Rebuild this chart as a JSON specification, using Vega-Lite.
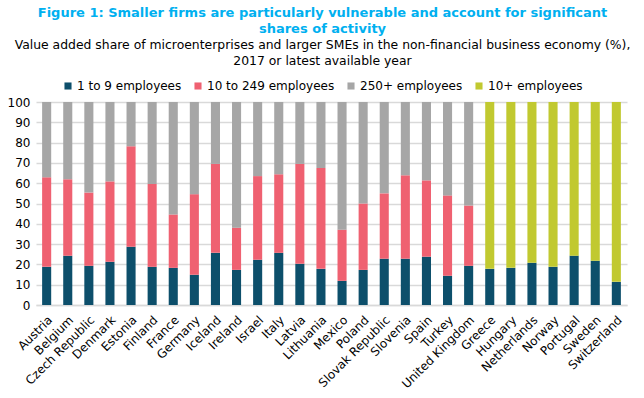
{
  "$schema": "https://vega.github.io/schema/vega-lite/v6.json",
  "width": 591,
  "height": 203,
  "autosize": {"type": "none"},
  "padding": {"left": 36, "top": 102, "right": 17, "bottom": 93},
  "background": "white",
  "title": {
    "text": ["Figure 1: Smaller firms are particularly  vulnerable and account for significant", "shares of activity"],
    "subtitle": ["Value added share of microenterprises and larger SMEs in the non-financial business economy (%),", "2017 or latest available year"],
    "anchor": "middle",
    "frame": "group",
    "dx": -9,
    "font": "DejaVu Sans",
    "fontSize": 13,
    "fontWeight": "bold",
    "color": "#00B0F0",
    "lineHeight": 16,
    "subtitleFont": "DejaVu Sans",
    "subtitleFontSize": 12.4,
    "subtitleColor": "#000000",
    "subtitleLineHeight": 16,
    "subtitlePadding": 3,
    "offset": 13
  },
  "data": {
    "values": [
      {"country": "Austria", "1 to 9 employees": 18.8, "10 to 249 employees": 44.1, "250+ employees": 37.1},
      {"country": "Belgium", "1 to 9 employees": 24.3, "10 to 249 employees": 37.6, "250+ employees": 38.1},
      {"country": "Czech Republic", "1 to 9 employees": 19.3, "10 to 249 employees": 36.1, "250+ employees": 44.6},
      {"country": "Denmark", "1 to 9 employees": 21.3, "10 to 249 employees": 39.6, "250+ employees": 39.1},
      {"country": "Estonia", "1 to 9 employees": 28.7, "10 to 249 employees": 49.5, "250+ employees": 21.8},
      {"country": "Finland", "1 to 9 employees": 18.8, "10 to 249 employees": 40.8, "250+ employees": 40.4},
      {"country": "France", "1 to 9 employees": 18.3, "10 to 249 employees": 26.3, "250+ employees": 55.4},
      {"country": "Germany", "1 to 9 employees": 14.9, "10 to 249 employees": 39.7, "250+ employees": 45.4},
      {"country": "Iceland", "1 to 9 employees": 25.7, "10 to 249 employees": 43.8, "250+ employees": 30.5},
      {"country": "Ireland", "1 to 9 employees": 17.3, "10 to 249 employees": 20.8, "250+ employees": 61.9},
      {"country": "Israel", "1 to 9 employees": 22.3, "10 to 249 employees": 41.2, "250+ employees": 36.5},
      {"country": "Italy", "1 to 9 employees": 25.7, "10 to 249 employees": 38.7, "250+ employees": 35.6},
      {"country": "Latvia", "1 to 9 employees": 20.3, "10 to 249 employees": 49.2, "250+ employees": 30.5},
      {"country": "Lithuania", "1 to 9 employees": 17.8, "10 to 249 employees": 49.7, "250+ employees": 32.5},
      {"country": "Mexico", "1 to 9 employees": 11.9, "10 to 249 employees": 25.2, "250+ employees": 62.9},
      {"country": "Poland", "1 to 9 employees": 17.3, "10 to 249 employees": 32.7, "250+ employees": 50.0},
      {"country": "Slovak Republic", "1 to 9 employees": 22.8, "10 to 249 employees": 32.2, "250+ employees": 45.0},
      {"country": "Slovenia", "1 to 9 employees": 22.8, "10 to 249 employees": 41.1, "250+ employees": 36.1},
      {"country": "Spain", "1 to 9 employees": 23.8, "10 to 249 employees": 37.6, "250+ employees": 38.6},
      {"country": "Turkey", "1 to 9 employees": 14.4, "10 to 249 employees": 39.6, "250+ employees": 46.0},
      {"country": "United Kingdom", "1 to 9 employees": 19.3, "10 to 249 employees": 29.7, "250+ employees": 51.0},
      {"country": "Greece", "1 to 9 employees": 17.8, "10+ employees": 82.2},
      {"country": "Hungary", "1 to 9 employees": 18.3, "10+ employees": 81.7},
      {"country": "Netherlands", "1 to 9 employees": 20.8, "10+ employees": 79.2},
      {"country": "Norway", "1 to 9 employees": 18.8, "10+ employees": 81.2},
      {"country": "Portugal", "1 to 9 employees": 24.3, "10+ employees": 75.7},
      {"country": "Sweden", "1 to 9 employees": 21.8, "10+ employees": 78.2},
      {"country": "Switzerland", "1 to 9 employees": 11.4, "10+ employees": 88.6}
    ]
  },
  "transform": [
    {"fold": ["1 to 9 employees", "10 to 249 employees", "250+ employees", "10+ employees"], "as": ["size", "value"]},
    {"filter": "isValid(datum.value)"}
  ],
  "mark": {"type": "bar"},
  "encoding": {
    "x": {
      "field": "country",
      "type": "nominal",
      "sort": null,
      "scale": {"paddingInner": 0.57, "paddingOuter": 0.29},
      "axis": {
        "title": null,
        "labelAngle": -45,
        "labelFont": "DejaVu Sans",
        "labelFontSize": 12,
        "labelColor": "#000000",
        "ticks": false,
        "labelPadding": 9,
        "domainColor": "#D9D9D9",
        "domainWidth": 1.5
      }
    },
    "y": {
      "field": "value",
      "type": "quantitative",
      "stack": "zero",
      "scale": {"domain": [0, 100]},
      "axis": {
        "title": null,
        "values": [0, 10, 20, 30, 40, 50, 60, 70, 80, 90, 100],
        "labelFont": "DejaVu Sans",
        "labelFontSize": 12,
        "labelColor": "#000000",
        "ticks": false,
        "domain": false,
        "gridColor": "#D9D9D9",
        "gridWidth": 1.5,
        "labelPadding": 6
      }
    },
    "order": {"field": "size", "sort": "ascending"},
    "color": {
      "field": "size",
      "type": "nominal",
      "scale": {
        "domain": ["1 to 9 employees", "10 to 249 employees", "250+ employees", "10+ employees"],
        "range": ["#0D4F6B", "#EF6171", "#A6A6A6", "#C1C930"]
      },
      "legend": {
        "title": null,
        "orient": "none",
        "legendX": 26,
        "legendY": -22,
        "direction": "horizontal",
        "symbolType": "square",
        "symbolSize": 50,
        "symbolStrokeWidth": 0,
        "labelFont": "DejaVu Sans",
        "labelFontSize": 12,
        "labelColor": "#000000",
        "columnPadding": 10,
        "symbolOffset": 0,
        "labelOffset": 3
      }
    }
  },
  "config": {"view": {"stroke": null}}
}
